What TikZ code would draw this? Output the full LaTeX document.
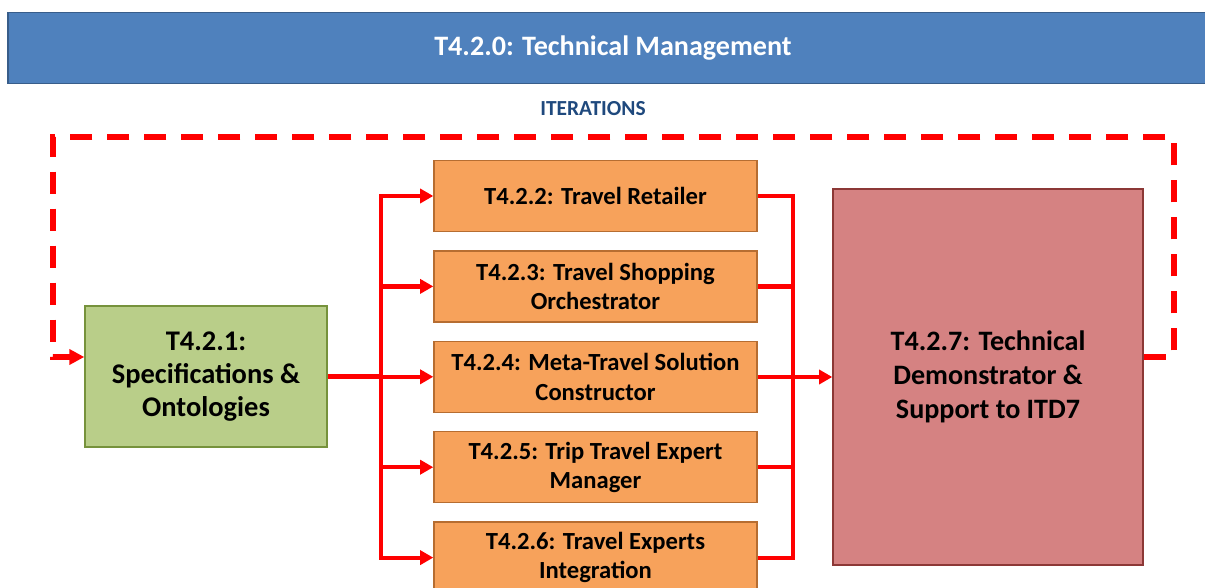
\documentclass[tikz,border=0pt]{standalone}
\usepackage{fontspec}
\setmainfont{Carlito}
\usepackage{tikz}
\usetikzlibrary{arrows.meta,positioning}
\usepackage{xcolor}

\definecolor{titleblue}{RGB}{79,129,189}
\definecolor{titleedge}{RGB}{56,93,138}
\definecolor{iterblue}{RGB}{31,73,125}
\definecolor{specgreen}{RGB}{185,206,137}
\definecolor{specedge}{RGB}{118,146,60}
\definecolor{wporange}{RGB}{247,162,91}
\definecolor{wpedge}{RGB}{182,109,49}
\definecolor{demored}{RGB}{213,130,130}
\definecolor{demoedge}{RGB}{140,56,54}
\definecolor{flowred}{RGB}{255,0,0}

\begin{document}
\begin{tikzpicture}[
  titlebox/.style={draw=titleedge, fill=titleblue, line width=0.8pt,
                   text=white, font=\fontsize{16}{19}\selectfont\bfseries,
                   minimum width=24.2cm, minimum height=1.42cm},
  specbox/.style={draw=specedge, fill=specgreen, line width=0.8pt,
                  align=center, font=\fontsize{16.2}{19}\selectfont\bfseries,
                  minimum width=4.84cm, minimum height=2.82cm},
  wpbox/.style={draw=wpedge, fill=wporange, line width=0.8pt,
                align=center, font=\fontsize{14}{16.8}\selectfont\bfseries,
                minimum width=6.46cm, minimum height=1.42cm},
  demobox/.style={draw=demoedge, fill=demored, line width=0.8pt,
                  align=center, font=\fontsize{16}{19.5}\selectfont\bfseries,
                  minimum width=6.2cm, minimum height=7.52cm},
  flow/.style={draw=flowred, line width=2.4pt},
  flowarr/.style={flow, -{Triangle[length=7.5pt,width=8pt]}},
  iterarr/.style={draw=flowred, line width=3pt,
                  dash pattern=on 0.44cm off 0.3cm,
                  -{Triangle[length=8.5pt,width=8.5pt]}},
]
  \useasboundingbox (0,0) rectangle (24.1,-11.76);

  %% ---- header ----
  \node[titlebox] (wp) at (12.26,-0.96) {T4.2.0: Technical Management};
  \node[font=\fontsize{12.2}{14}\selectfont\bfseries, text=iterblue] (iter)
    at (11.86,-2.18) {ITERATIONS};

  %% ---- tasks ----
  \node[specbox] (spec) at (4.12,-7.53) {T4.2.1:\\Specifications \&\\Ontologies};

  \node[wpbox] (retail) at (11.91,-3.92) {T4.2.2: Travel Retailer};
  \node[wpbox, below=0.36cm of retail] (shop) {T4.2.3: Travel Shopping\\Orchestrator};
  \node[wpbox, below=0.36cm of shop] (meta) {T4.2.4: Meta-Travel Solution\\Constructor};
  \node[wpbox, below=0.36cm of meta] (expert) {T4.2.5: Trip Travel Expert\\Manager};
  \node[wpbox, below=0.36cm of expert] (integ) {T4.2.6: Travel Experts\\Integration};

  \node[demobox] (demo) at (19.76,-7.54) {T4.2.7: Technical\\Demonstrator \&\\Support to ITD7};

  %% ---- flows ----
  \coordinate (lsplit) at (7.62,-7.53);
  \coordinate (rsplit) at (15.86,-7.54);
  \draw[flow] (spec.east) -- (lsplit);
  \foreach \t in {retail,shop,meta,expert,integ}{
    \draw[flowarr] (lsplit) |- (\t.west);
    \draw[flow] (\t.east) -| (rsplit);
  }
  \draw[flowarr] (rsplit) -- (demo.west);

  %% ---- iteration loop ----
  \coordinate (loopR) at (23.48,-2.74);
  \coordinate (loopL) at (1.06,-2.74);
  \draw[iterarr] ([yshift=0.4cm]demo.east) -| (loopR) -- (loopL)
    |- ([yshift=0.39cm]spec.west);
\end{tikzpicture}
\end{document}
